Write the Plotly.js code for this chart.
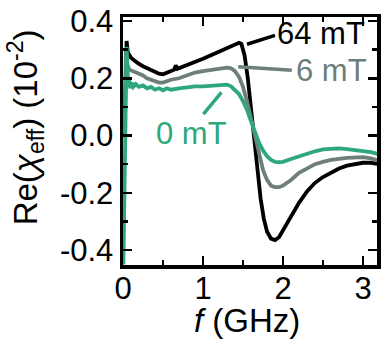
<!DOCTYPE html>
<html>
<head>
<meta charset="utf-8">
<script src="https://cdn.plot.ly/plotly-3.0.1.min.js"></script>
<style>
html,body{margin:0;padding:0;background:#fff;}
#chart{width:381px;height:343px;}
</style>
</head>
<body>
<div id="chart"></div>
<script>
// ---- data ----
const seriesNames = ["64 mT", "6 mT", "0 mT"];

const x64 = [0.02,0.035,0.045,0.06,0.08,0.1,0.13,0.16,0.2,0.25,0.3,0.35,0.4,0.45,0.5,0.55,0.6,0.64,0.66,0.68,0.7,0.8,0.9,1.0,1.1,1.2,1.3,1.4,1.45,1.48,1.52,1.56,1.6,1.64,1.68,1.72,1.76,1.8,1.85,1.9,1.95,2.0,2.1,2.2,2.3,2.4,2.5,2.6,2.7,2.8,2.9,3.0,3.1,3.2];
const y64 = [0.05,0.31,0.33,0.29,0.28,0.272,0.265,0.258,0.25,0.242,0.235,0.228,0.222,0.216,0.214,0.218,0.225,0.23,0.245,0.233,0.235,0.245,0.255,0.268,0.28,0.293,0.305,0.318,0.324,0.32,0.28,0.2,0.09,-0.02,-0.13,-0.22,-0.29,-0.335,-0.36,-0.365,-0.355,-0.33,-0.28,-0.235,-0.195,-0.165,-0.145,-0.13,-0.115,-0.105,-0.1,-0.095,-0.095,-0.1];

const x6 = [0.02,0.035,0.05,0.08,0.12,0.16,0.2,0.25,0.3,0.35,0.4,0.45,0.5,0.55,0.6,0.7,0.8,0.9,1.0,1.1,1.2,1.3,1.35,1.4,1.45,1.5,1.55,1.6,1.65,1.7,1.75,1.8,1.85,1.9,1.95,2.0,2.1,2.2,2.3,2.4,2.5,2.6,2.8,3.0,3.1,3.2];
const y6 = [0.0,0.28,0.25,0.23,0.225,0.22,0.215,0.21,0.2,0.195,0.19,0.185,0.185,0.19,0.195,0.2,0.21,0.22,0.225,0.23,0.235,0.237,0.235,0.225,0.205,0.17,0.12,0.06,0.0,-0.065,-0.12,-0.155,-0.175,-0.18,-0.18,-0.175,-0.155,-0.13,-0.115,-0.1,-0.092,-0.085,-0.078,-0.075,-0.08,-0.088];

const x0 = [0.005,0.015,0.025,0.035,0.045,0.055,0.065,0.075,0.09,0.11,0.13,0.16,0.2,0.25,0.3,0.35,0.4,0.45,0.5,0.55,0.6,0.7,0.8,0.9,1.0,1.1,1.2,1.3,1.35,1.4,1.45,1.5,1.55,1.6,1.65,1.7,1.75,1.8,1.85,1.9,1.95,2.0,2.1,2.2,2.3,2.4,2.5,2.6,2.7,2.8,2.9,3.0,3.1,3.2];
const y0 = [-0.45,-0.2,0.1,0.3,0.31,0.25,0.17,0.2,0.165,0.185,0.17,0.18,0.17,0.175,0.165,0.17,0.16,0.165,0.158,0.165,0.16,0.165,0.17,0.172,0.172,0.175,0.178,0.178,0.172,0.16,0.145,0.12,0.09,0.05,0.01,-0.025,-0.052,-0.072,-0.085,-0.092,-0.093,-0.092,-0.082,-0.072,-0.062,-0.055,-0.048,-0.046,-0.045,-0.047,-0.05,-0.053,-0.058,-0.065];

const xTickVals = [0, 1, 2, 3];
const xTickText = ["0", "1", "2", "3"];
const yTickVals = [-0.4, -0.2, 0.0, 0.2, 0.4];
const yTickText = ["-0.4", "-0.2", "0.0", "0.2", "0.4"];

// ---- styling ----
const colBlack = "#000000", colGray = "#6e7e7b", colGreen = "#2ea77c";
const FONT = "Liberation Sans, Arial, sans-serif";
const FS = 31, FT = 33;
const LW = 3.8;

const traces = [
  {x: x0, y: y0, name: seriesNames[2], mode: "lines", line: {color: colGreen, width: LW}},
  {x: x6, y: y6, name: seriesNames[1], mode: "lines", line: {color: colGray, width: LW}},
  {x: x64, y: y64, name: seriesNames[0], mode: "lines", line: {color: colBlack, width: LW}}
];
const ordered = [traces[2], traces[1], traces[0]];

const axisCommon = {
  showline: true, linecolor: "#000", linewidth: 3.5, mirror: "ticks",
  ticks: "inside", ticklen: 9, tickwidth: 2.5, tickcolor: "#000",
  showgrid: false, zeroline: false,
  tickfont: {family: FONT, size: FS, color: "#000"}
};

const layout = {
  width: 381, height: 343,
  margin: {l: 123, r: 4, t: 17, b: 78},
  paper_bgcolor: "#fff", plot_bgcolor: "#fff",
  showlegend: false,
  font: {family: FONT, size: FS, color: "#000"},
  xaxis: Object.assign({}, axisCommon, {
    range: [0, 3.175], tickmode: "array", tickvals: xTickVals, ticktext: xTickText,
    minor: {dtick: 0.5, ticks: "inside", ticklen: 5, tickwidth: 2.5, tickcolor: "#000", showgrid: false},
    ticklabelstandoff: -7
  }),
  yaxis: Object.assign({}, axisCommon, {
    range: [-0.452, 0.414], tickmode: "array", tickvals: yTickVals, ticktext: yTickText,
    minor: {dtick: 0.1, ticks: "inside", ticklen: 5, tickwidth: 2.5, tickcolor: "#000", showgrid: false},
    ticklabelstandoff: 0
  }),
  annotations: [
    {text: "Re(<i>χ</i><sub>eff</sub>) (10<sup>-2</sup>)", xref: "paper", yref: "paper",
     x: -0.385, y: 0.556, textangle: -90, showarrow: false, xanchor: "center", yanchor: "middle",
     font: {family: FONT, size: FT, color: "#000"}},
    {text: "<i>f</i> (GHz)", xref: "paper", yref: "paper", x: 0.49, y: -0.222,
     showarrow: false, xanchor: "center", yanchor: "middle",
     font: {family: FONT, size: FT, color: "#000"}},
    {text: seriesNames[0], x: 2.48, y: 0.358, xref: "x", yref: "y", showarrow: false,
     font: {family: FONT, size: FS, color: colBlack}},
    {text: seriesNames[1], x: 2.61, y: 0.226, xref: "x", yref: "y", showarrow: false,
     font: {family: FONT, size: FS, color: colGray}},
    {text: seriesNames[2], x: 0.85, y: 0.007, xref: "x", yref: "y", showarrow: false,
     font: {family: FONT, size: FS, color: colGreen}}
  ],
  shapes: [
    {type: "line", xref: "x", yref: "y", x0: 1.55, y0: 0.319, x1: 1.9, y1: 0.35, line: {color: colBlack, width: 3.5}},
    {type: "line", xref: "x", yref: "y", x0: 1.44, y0: 0.240, x1: 2.11, y1: 0.228, line: {color: colGray, width: 3.5}},
    {type: "line", xref: "x", yref: "y", x0: 1.23, y0: 0.151, x1: 1.005, y1: 0.075, line: {color: colGreen, width: 3.5}}
  ]
};

Plotly.newPlot("chart", ordered, layout, {staticPlot: true, displayModeBar: false});
</script>
</body>
</html>
